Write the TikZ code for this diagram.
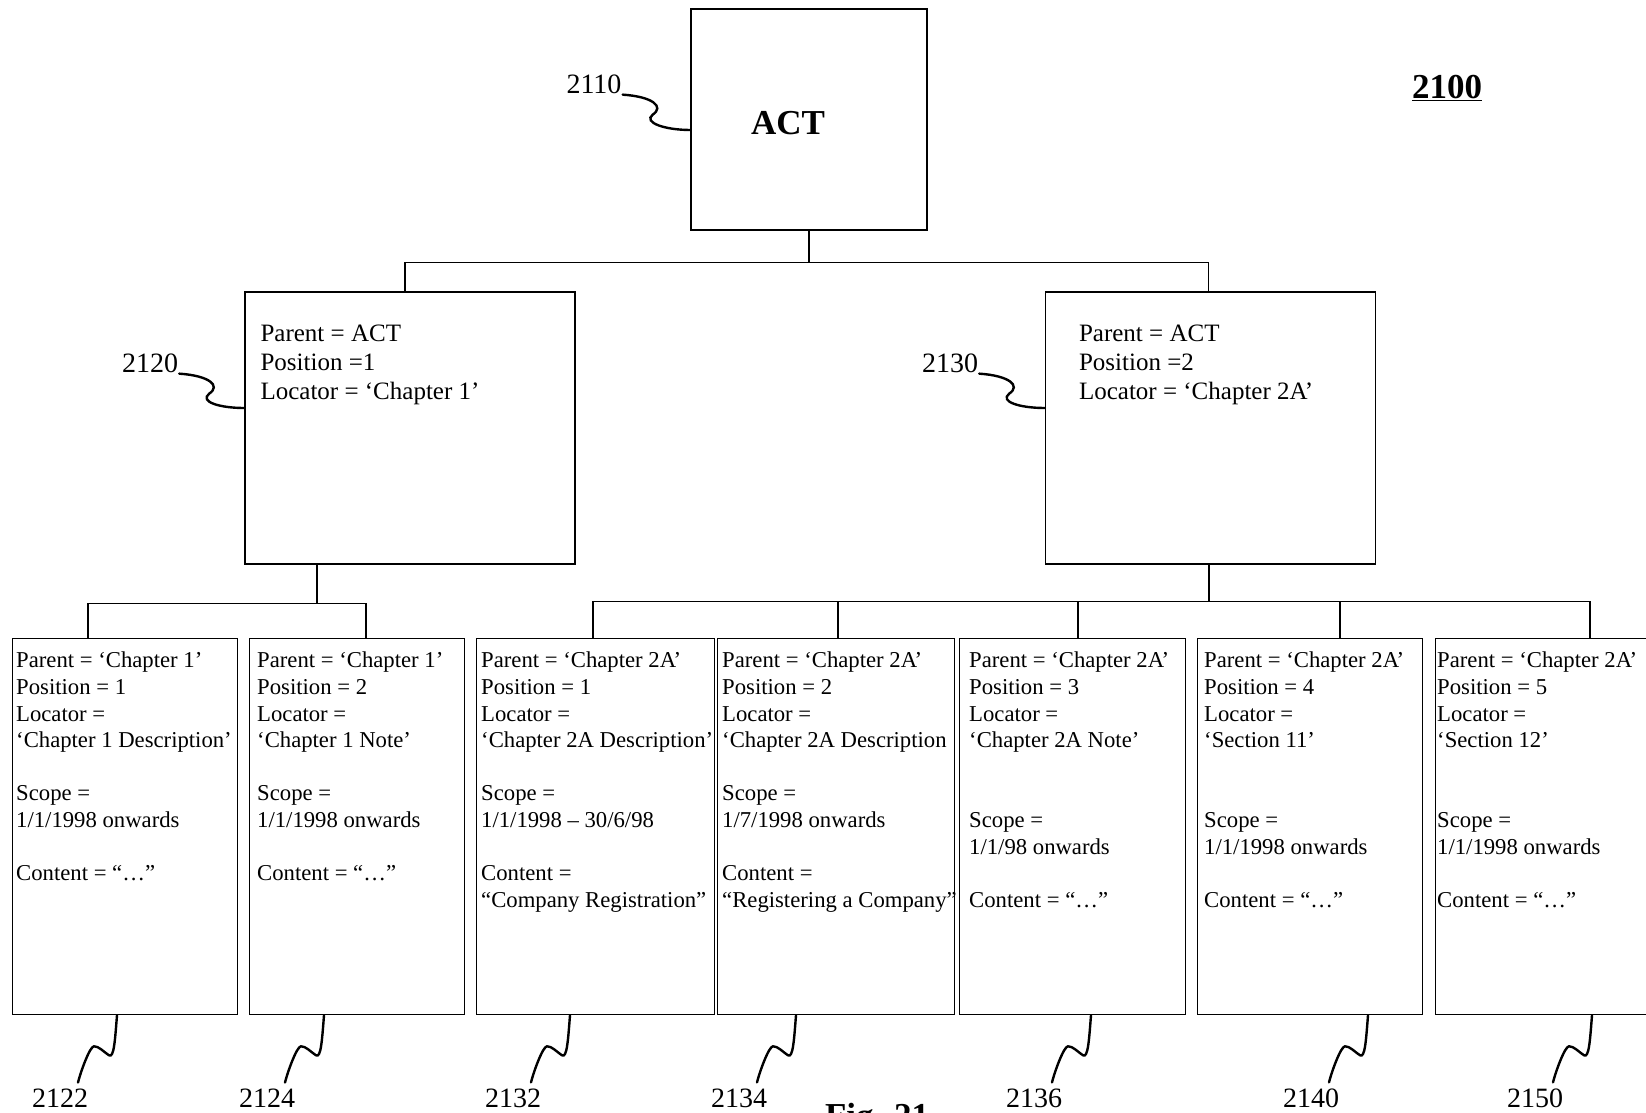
\documentclass[tikz,border=0pt]{standalone}
\usepackage{fontspec}
\setmainfont{Liberation Serif}
\newcommand{\leaffont}{\fontsize{22.7}{26.6}\selectfont}
\newcommand{\midfont}{\fontsize{25}{29}\selectfont}
\newcommand{\reffont}{\fontsize{28}{30}\selectfont}
\newcommand{\actfont}{\fontsize{35}{40}\selectfont\bfseries}

\begin{document}
\begin{tikzpicture}[x=1pt,y=-1pt,
  box/.style={draw,line width=1.3pt,inner sep=0pt},
  actbox/.style={box,minimum width=236pt,minimum height=221pt},
  midbox/.style={box,minimum width=330pt,minimum height=272pt},
  leaf/.style={box,anchor=north west,minimum height=376pt},
  mtext/.style={anchor=north west,align=left,font=\midfont,inner xsep=16pt,inner ysep=33pt},
  ltext/.style={anchor=north west,align=left,font=\leaffont,inner xsep=4pt,inner ysep=14pt},
  refnum/.style={font=\reffont,inner sep=1pt},
  conn/.style={line width=1.3pt},
  lead/.style={line width=2.4pt,line cap=round}]
\useasboundingbox (0,0) rectangle (1646,1113);
\clip (0,0) rectangle (1646,1113);

% top level
\node[actbox,label={[font=\actfont,xshift=-21pt,yshift=-3.5pt]center:ACT}] (act) at (809,119.5) {};
\node[font=\actfont] (fignum) at (1447,88) {\underline{2100}};

% chapters
\node[midbox,label={[mtext]north west:{Parent = ACT\\Position =1\\Locator = ‘Chapter 1’}}] (m2120) at (410,428) {};
\node[midbox,label={[mtext,inner xsep=34pt]north west:{Parent = ACT\\Position =2\\Locator = ‘Chapter 2A’}}] (m2130) at (1210.5,428) {};

% leaves
\node[leaf,minimum width=225pt,label={[ltext]north west:{Parent = ‘Chapter 1’\\Position = 1\\Locator =\\‘Chapter 1 Description’\\[26.6pt]Scope =\\1/1/1998 onwards\\[26.6pt]Content = “…”}}] (c2122) at (12,638) {};
\node[leaf,minimum width=215pt,label={[ltext,inner xsep=8pt]north west:{Parent = ‘Chapter 1’\\Position = 2\\Locator =\\‘Chapter 1 Note’\\[26.6pt]Scope =\\1/1/1998 onwards\\[26.6pt]Content = “…”}}] (c2124) at (249,638) {};
\node[leaf,minimum width=238pt,label={[ltext,inner xsep=5pt]north west:{Parent = ‘Chapter 2A’\\Position = 1\\Locator =\\‘Chapter 2A Description’\\[26.6pt]Scope =\\1/1/1998 – 30/6/98\\[26.6pt]Content =\\“Company Registration”}}] (c2132) at (476,638) {};
\node[leaf,minimum width=237pt,label={[ltext,inner xsep=5pt]north west:{Parent = ‘Chapter 2A’\\Position = 2\\Locator =\\‘Chapter 2A Description\\[26.6pt]Scope =\\1/7/1998 onwards\\[26.6pt]Content =\\“Registering a Company”}}] (c2134) at (717,638) {};
\node[leaf,minimum width=226pt,label={[ltext,inner xsep=10pt]north west:{Parent = ‘Chapter 2A’\\Position = 3\\Locator =\\‘Chapter 2A Note’\\[53.2pt]Scope =\\1/1/98 onwards\\[26.6pt]Content = “…”}}] (c2136) at (959,638) {};
\node[leaf,minimum width=225pt,label={[ltext,inner xsep=7pt]north west:{Parent = ‘Chapter 2A’\\Position = 4\\Locator =\\‘Section 11’\\[53.2pt]Scope =\\1/1/1998 onwards\\[26.6pt]Content = “…”}}] (c2140) at (1197,638) {};
\node[leaf,minimum width=240pt,label={[ltext,inner xsep=2pt]north west:{Parent = ‘Chapter 2A’\\Position = 5\\Locator =\\‘Section 12’\\[53.2pt]Scope =\\1/1/1998 onwards\\[26.6pt]Content = “…”}}] (c2150) at (1435,638) {};

% reference numerals
\node[refnum] (l2110) at (594,84) {2110};
\node[refnum] (l2120) at (150,363) {2120};
\node[refnum] (l2130) at (950,363) {2130};
\foreach \n/\x in {2122/60,2124/267,2132/513,2134/739,2136/1034,2140/1311,2150/1535}
  \node[refnum] (l\n) at (\x,1098) {\n};
\node[font=\actfont,anchor=base] (figlbl) at (877,1127) {Fig. 21};

% tree connectors
\draw[conn] (act.south) -- ++(0,32) coordinate (tbus) -| ([xshift=-5pt]m2120.north);
\draw[conn] (tbus) -| ([xshift=-2pt]m2130.north);
\draw[conn] ([xshift=-93pt]m2120.south) -- ++(0,39) coordinate (lbus);
\draw[conn] ([xshift=-1.5pt]m2130.south) -- ++(0,37) coordinate (rbus);
\foreach \n/\dx in {2122/76,2124/117}
  \draw[conn] (lbus) -| ([xshift=\dx pt]c\n.north west);
\foreach \n/\dx in {2132/117,2134/121,2136/119,2140/143,2150/155}
  \draw[conn] (rbus) -| ([xshift=\dx pt]c\n.north west);

% leader lines
\draw[lead] (l2110.south east) .. controls +(30,2) and +(12,-8) .. ++(30,20) .. controls +(-10,8) and +(-25,0) .. ([yshift=-10.5pt]act.west);
\draw[lead] (l2120.south east) .. controls +(30,2) and +(12,-8) .. ++(30,20) .. controls +(-10,8) and +(-25,0) .. ([yshift=20pt]m2120.west);
\draw[lead] (l2130.south east) .. controls +(30,2) and +(12,-8) .. ++(30,20) .. controls +(-10,8) and +(-25,0) .. ([yshift=20pt]m2130.west);
\foreach \n/\dx in {2122/105,2124/75,2132/94,2134/79,2136/132,2140/171,2150/157}
  \draw[lead] ([xshift=\dx pt]c\n.south west) .. controls +(-2,25) and +(5,3) .. ++(-8,40)
    .. controls +(-6,-4) and +(5,0) .. ++(-15,-9) .. controls +(-4,0) and +(3,-12) .. ([xshift=18pt,yshift=5pt]l\n.north);
\end{tikzpicture}
\end{document}
